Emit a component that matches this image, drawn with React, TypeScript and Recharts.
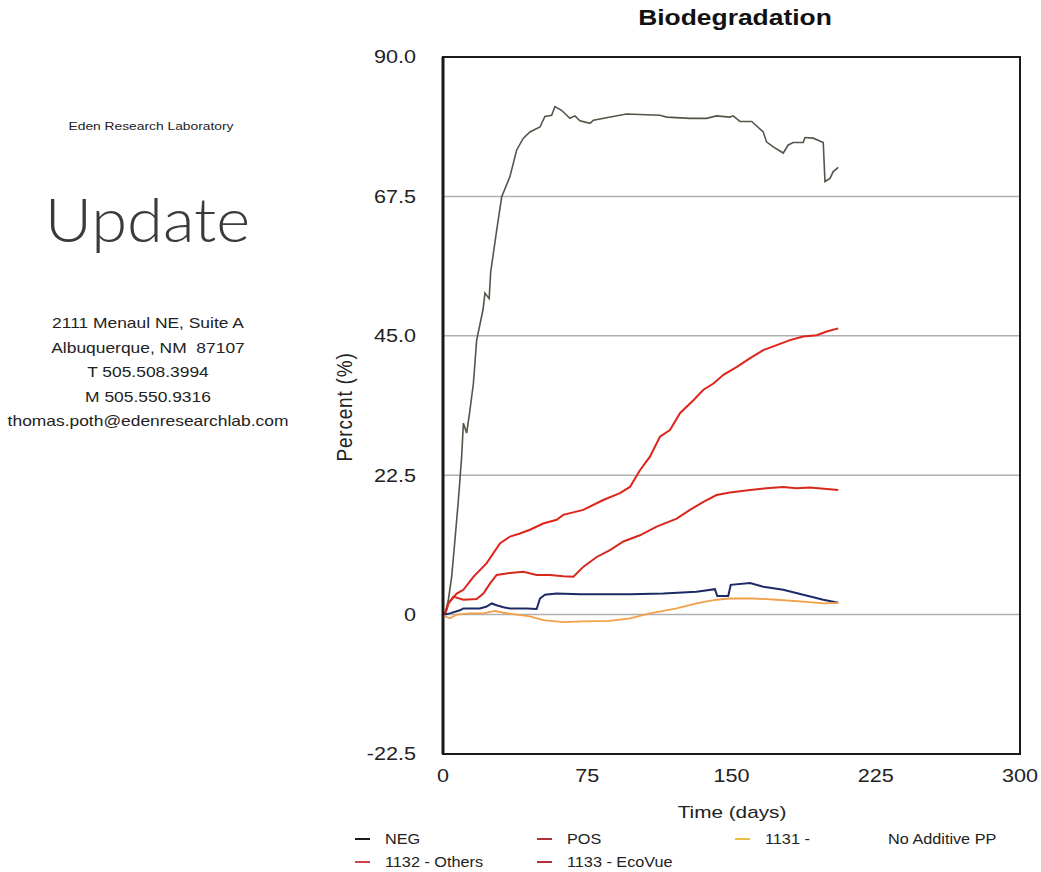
import React from "react";
import {
  LineChart,
  Line,
  XAxis,
  YAxis,
  CartesianGrid,
  ReferenceArea,
} from "recharts";

// tick labels
const xTicks = [0, 75, 150, 225, 300];
const yTicks = [-22.5, 0, 22.5, 45, 67.5, 90];

// POS (top curve)
const posDays = [1, 2.8, 4.5, 6.2, 8, 9.7, 10.6, 12.3, 14, 15.8, 17.5, 20.8, 21.8, 24, 24.8, 27.9, 30.5, 34.8, 38.3, 41.8, 45.2, 50.4, 53, 56.5, 58.2, 61.6, 66, 68.6, 71.2, 76.4, 78.2, 85, 95.4, 112.8, 116.3, 128.4, 137, 142.2, 149.2, 150.9, 154.4, 160.5, 166.5, 168.2, 171.7, 176.9, 179.5, 182.1, 187.3, 188.2, 192.5, 197.7, 198.6, 201.2, 202.9, 205.5];
const posValues = [0, 2.4, 6.1, 12, 18.5, 25.5, 30.9, 29.3, 33, 37.3, 44.3, 49.2, 51.9, 51, 55.3, 62, 67.4, 70.7, 75, 76.9, 77.9, 78.7, 80.4, 80.6, 82, 81.4, 80.1, 80.5, 79.7, 79.3, 79.8, 80.2, 80.8, 80.6, 80.3, 80.1, 80.1, 80.5, 80.3, 80.5, 79.6, 79.6, 77.9, 76.3, 75.5, 74.5, 75.8, 76.2, 76.2, 77, 76.9, 76.2, 69.9, 70.4, 71.5, 72.2];

// 1133 - EcoVue (upper red)
const ecoDays = [1, 2.8, 7.1, 10.6, 15.8, 22.7, 29.6, 34.8, 40, 45.2, 52.1, 59.1, 62.5, 72.9, 83.3, 92, 97.2, 102.4, 107.6, 112.8, 118, 123.2, 130.2, 135.4, 140.6, 145.8, 152.8, 159.7, 166.5, 173.5, 180.4, 187.3, 194.3, 199.5, 205.5];
const ecoValues = [0, 1.8, 3.4, 4, 6.1, 8.3, 11.5, 12.6, 13.1, 13.7, 14.7, 15.3, 16.1, 16.9, 18.5, 19.6, 20.6, 23.3, 25.5, 28.7, 29.8, 32.5, 34.6, 36.3, 37.3, 38.7, 40, 41.4, 42.7, 43.5, 44.3, 44.9, 45.1, 45.7, 46.2];

// 1132 - Others (lower red)
const othersDays = [1, 2.8, 5.4, 10.6, 17.5, 21, 24.4, 27.9, 34.8, 41.8, 48.7, 55.6, 62.5, 67.8, 72.9, 79.9, 86.8, 93.8, 102.4, 111.1, 121.5, 128.4, 135.4, 142.2, 149.2, 159.7, 168.2, 176.9, 183.8, 190.7, 205.5];
const othersValues = [0, 1.8, 2.9, 2.4, 2.5, 3.4, 5, 6.4, 6.7, 6.9, 6.4, 6.4, 6.2, 6.1, 7.7, 9.3, 10.4, 11.8, 12.8, 14.2, 15.5, 16.9, 18.2, 19.3, 19.7, 20.1, 20.4, 20.6, 20.4, 20.5, 20.1];

// NEG (navy)
const negDays = [1, 3.6, 8.8, 10.6, 19.2, 22.7, 25.3, 27.9, 31.4, 34.8, 43.5, 48.7, 50.4, 53, 59.1, 71.2, 97.2, 114.5, 131.8, 141.4, 142.6, 148.3, 149.6, 159.7, 166.5, 176.9, 187.3, 197.7, 205.5];
const negValues = [0, 0.2, 0.7, 1, 1, 1.3, 1.8, 1.5, 1.2, 1, 1, 0.9, 2.6, 3.2, 3.4, 3.3, 3.3, 3.4, 3.7, 4.1, 3, 3, 4.8, 5.1, 4.5, 4, 3.2, 2.4, 1.9];

// 1131 - No Additive PP (orange)
const noAddDays = [1, 3.6, 7.1, 14, 21, 27, 31.4, 38.3, 45.2, 52.1, 62.5, 72.9, 86.8, 97.2, 107.6, 121.5, 131.8, 142.2, 149.2, 161.3, 173.5, 187.3, 197.7, 205.5];
const noAddValues = [-0.3, -0.6, 0, 0.2, 0.2, 0.6, 0.3, 0, -0.3, -0.9, -1.2, -1.1, -1, -0.6, 0.2, 1, 1.8, 2.4, 2.6, 2.6, 2.4, 2.1, 1.8, 1.9];

const toPoints = (days: number[], values: number[]) =>
  days.map((d, i) => ({ day: d, value: values[i] }));

const series = [
  { name: "POS", data: toPoints(posDays, posValues), color: "#4f5848", width: 1.6 },
  { name: "1133 - EcoVue", data: toPoints(ecoDays, ecoValues), color: "#e0241c", width: 2 },
  { name: "1132 - Others", data: toPoints(othersDays, othersValues), color: "#d8281e", width: 2 },
  { name: "NEG", data: toPoints(negDays, negValues), color: "#1c2a66", width: 2 },
  { name: "1131 - No Additive PP", data: toPoints(noAddDays, noAddValues), color: "#f2a04a", width: 1.8 },
];

const legendItems = [
  { label: "NEG", color: "#1a1a1a", x: 355, y: 839 },
  { label: "POS", color: "#b0303c", x: 537, y: 839 },
  { label: "1131 -", color: "#e8c040", x: 735, y: 839 },
  { label: "1132 - Others", color: "#d0404c", x: 355, y: 862 },
  { label: "1133 - EcoVue", color: "#b0303c", x: 537, y: 862 },
];

const font = "'Liberation Sans', Arial, Helvetica, sans-serif";
// the scanned page is stretched a little sideways
const SX = 1.2;

const fmtY = (v: number) => (v === 0 ? "0" : v.toFixed(1));

function YTick(props: any) {
  const { x, y, payload } = props;
  return (
    <g transform={`translate(${x},${y}) scale(${SX},1)`}>
      <text x={0} y={0} textAnchor="end" dy="0.35em" fill="#222" fontSize={18} fontFamily={font}>
        {fmtY(payload.value)}
      </text>
    </g>
  );
}

function XTick(props: any) {
  const { x, y, payload } = props;
  return (
    <g transform={`translate(${x},${y}) scale(${SX},1)`}>
      <text x={0} y={0} textAnchor="middle" dy="0.71em" fill="#222" fontSize={18} fontFamily={font}>
        {payload.value}
      </text>
    </g>
  );
}

const stretched = (sx: number): React.CSSProperties => ({
  transform: `scaleX(${sx})`,
  transformOrigin: "center",
});

export default function App() {
  return (
    <div
      style={{
        position: "absolute",
        left: 0,
        top: 0,
        width: 1041,
        height: 872,
        background: "#fff",
        fontFamily: font,
        color: "#222",
        overflow: "hidden",
      }}
    >
      {/* letterhead on the left */}
      <div style={{ position: "absolute", left: 0, width: 302, top: 119, textAlign: "center", fontSize: 11.5, lineHeight: "14px", ...stretched(SX) }}>
        Eden Research Laboratory
      </div>
      <div
        style={{
          position: "absolute",
          left: 0,
          width: 295,
          top: 182,
          textAlign: "center",
          fontSize: 62,
          lineHeight: "72px",
          fontFamily: "Lato, Roboto, sans-serif",
          fontWeight: 300,
          color: "#3a3a3a",
          ...stretched(1.05),
        }}
      >
        Update
      </div>
      <div style={{ position: "absolute", left: 0, width: 296, top: 311, textAlign: "center", fontSize: 15, lineHeight: "24.5px", ...stretched(1.16) }}>
        <div>2111 Menaul NE, Suite A</div>
        <div>Albuquerque, NM&nbsp; 87107</div>
        <div>T 505.508.3994</div>
        <div>M 505.550.9316</div>
        <div>thomas.poth@edenresearchlab.com</div>
      </div>

      <div style={{ position: "absolute", left: 435, width: 600, top: 5, textAlign: "center", fontSize: 22, lineHeight: "26px", fontWeight: "bold", color: "#111", ...stretched(SX) }}>
        Biodegradation
      </div>

      <div style={{ position: "absolute", top: 0, left: 0 }}>
        <LineChart width={1041} height={872} margin={{ top: 57, right: 21, bottom: 58, left: 323 }}>
          <CartesianGrid vertical={false} stroke="#b0b0b0" strokeWidth={1.5} />
          <XAxis
            type="number"
            dataKey="day"
            domain={[0, 300]}
            ticks={xTicks}
            allowDataOverflow
            height={60}
            tickLine={false}
            tickSize={0}
            tickMargin={15}
            axisLine={{ stroke: "#1a1a1a", strokeWidth: 2 }}
            tick={<XTick />}
            interval={0}
          />
          <YAxis
            type="number"
            domain={[-22.5, 90]}
            ticks={yTicks}
            allowDataOverflow
            width={120}
            tickLine={false}
            tickSize={0}
            tickMargin={27}
            axisLine={{ stroke: "#1a1a1a", strokeWidth: 3 }}
            tick={<YTick />}
            interval={0}
          />
          <ReferenceArea x1={0} x2={300} y1={-22.5} y2={90} fill="none" stroke="#1a1a1a" strokeWidth={2} ifOverflow="visible" />
          {series.map((s) => (
            <Line
              key={s.name}
              data={s.data}
              dataKey="value"
              name={s.name}
              type="linear"
              stroke={s.color}
              strokeWidth={s.width}
              dot={false}
              activeDot={false}
              isAnimationActive={false}
            />
          ))}
        </LineChart>
      </div>

      {/* axis titles */}
      <div style={{ position: "absolute", left: 632, width: 200, top: 802, textAlign: "center", fontSize: 17, lineHeight: "22px", ...stretched(1.22) }}>
        Time (days)
      </div>
      <div
        style={{
          position: "absolute",
          left: 345 - 70,
          top: 407 - 11,
          width: 140,
          height: 22,
          lineHeight: "22px",
          textAlign: "center",
          fontSize: 19,
          letterSpacing: 0.8,
          transform: "rotate(-90deg) scaleY(1.15)",
          transformOrigin: "center",
        }}
      >
        Percent (%)
      </div>

      {/* legend */}
      {legendItems.map((l) => (
        <div key={l.label} style={{ position: "absolute", left: l.x, top: l.y - 9, height: 18, display: "flex", alignItems: "center", fontSize: 14.5 }}>
          <span style={{ display: "inline-block", width: 15, height: 2, background: l.color, marginRight: 15 }} />
          <span style={{ display: "inline-block", transform: "scaleX(1.12)", transformOrigin: "left center" }}>{l.label}</span>
        </div>
      ))}
      <div style={{ position: "absolute", left: 888, top: 830, height: 18, display: "flex", alignItems: "center", fontSize: 14.5 }}>
        <span style={{ display: "inline-block", transform: "scaleX(1.12)", transformOrigin: "left center" }}>No Additive PP</span>
      </div>
    </div>
  );
}
